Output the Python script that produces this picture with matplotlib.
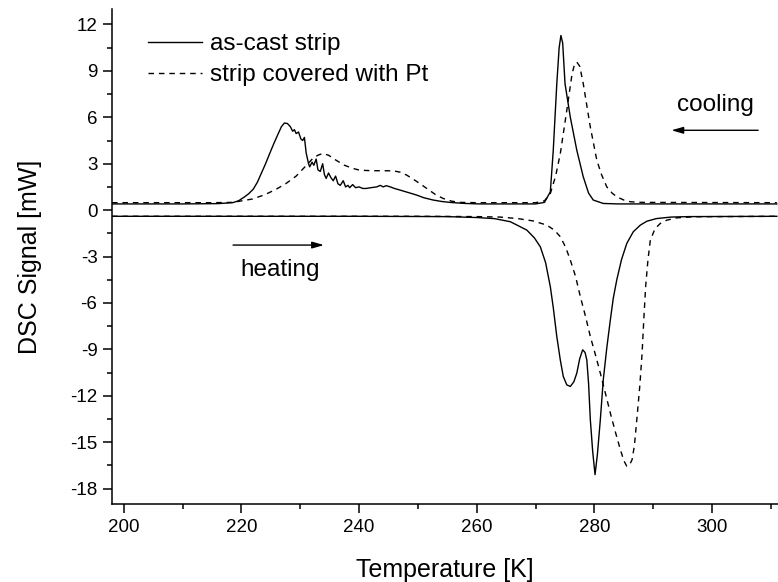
import matplotlib
matplotlib.use('Agg')
import matplotlib.pyplot as plt
from matplotlib.ticker import MultipleLocator

plt.rcParams['font.family'] = ['Liberation Sans', 'DejaVu Sans']
plt.rcParams['axes.unicode_minus'] = False

# cooling runs (exothermic peaks, positive)
cool_cast_T = [198, 210, 216, 218.5, 219.5, 220.5, 221.2, 222.0, 222.7, 223.4, 224.1, 224.8,
               225.5, 226.2, 226.8, 227.3, 227.8,
               228.3, 228.7, 229.0, 229.3, 229.7, 230.1, 230.4, 230.7, 231.0, 231.4, 231.6,
               232.0, 232.3, 232.7, 233.0, 233.4, 233.8, 234.1, 234.4, 234.8, 235.2, 235.6,
               236.0, 236.4, 236.8, 237.3, 237.7, 238.1, 238.4, 238.9, 239.4, 240.0, 240.6,
               241.2, 242, 243, 243.6, 244.1, 244.6, 245.3, 246, 247, 248.5, 249.8, 251,
               252.6, 254, 255.4, 258, 260.5, 265, 270, 271.5, 272.5, 273.0, 273.6, 274.0,
               274.3, 274.6, 275.0, 275.9, 277.0, 278.1, 279.0, 279.8, 281.5, 284, 311]
cool_cast_S = [0.40, 0.40, 0.42, 0.48, 0.6, 0.85, 1.05, 1.35, 1.8, 2.4, 3.0, 3.66,
               4.3, 4.9, 5.4, 5.63, 5.6,
               5.4, 5.1, 5.2, 4.95, 5.05, 4.6, 4.5, 4.7, 3.7, 3.0, 2.8,
               3.1, 2.9, 3.3, 2.6, 2.5, 3.0, 2.3, 2.05, 2.4, 2.1, 1.9,
               2.2, 1.7, 1.6, 1.9, 1.5, 1.6, 1.45, 1.65, 1.45, 1.5, 1.4,
               1.4, 1.45, 1.5, 1.6, 1.5, 1.58, 1.5, 1.4, 1.29, 1.12, 0.97, 0.8,
               0.65, 0.56, 0.5, 0.43, 0.40, 0.40, 0.40, 0.5, 1.18, 3.87, 8.17, 10.5,
               11.29, 10.8, 8.17, 6.0, 3.87, 2.15, 1.1, 0.65, 0.43, 0.40, 0.40]

cool_pt_T = [198, 215, 218.5, 221.9, 224, 225.9, 227.5, 229.3, 230.8, 232.1, 233.0, 233.8,
             234.8, 236.1, 237.5, 239.0, 240.1, 242, 245.8, 247, 248.1, 249.8, 251.5, 253,
             254.3, 255.7, 257.1, 260, 270, 271.5, 272.5, 273.4, 274.2, 275.3, 276.2, 276.6,
             277.0, 277.5, 278.1, 279.3, 280.4, 281.2, 282.1, 283.0, 283.8, 285, 286.1, 288, 311]
cool_pt_S = [0.48, 0.48, 0.5, 0.72, 1.0, 1.35, 1.7, 2.2, 2.8, 3.33, 3.55, 3.66,
             3.55, 3.22, 2.9, 2.69, 2.58, 2.55, 2.54, 2.45, 2.26, 1.85, 1.4, 1.0,
             0.75, 0.58, 0.5, 0.48, 0.48, 0.6, 1.07, 2.2, 3.66, 6.45, 8.82, 9.4,
             9.57, 9.3, 8.17, 5.37, 3.23, 2.3, 1.5, 1.1, 0.86, 0.65, 0.54, 0.5, 0.48]

# heating runs (endothermic peaks, negative)
heat_cast_T = [198, 240, 255, 260, 263, 265.7, 267, 268.5, 269.8, 270.8, 271.7, 272.5,
               273.0, 273.6, 274.2, 274.7, 275.3, 275.9, 276.5, 277.0, 277.5, 278.0, 278.4,
               278.7, 279.0, 279.3, 279.7, 280.1, 280.5, 281.0, 281.5, 282.1, 282.7, 283.2,
               283.8, 284.6, 285.5, 286.6, 287.8, 288.9, 290.5, 293, 296, 311]
heat_cast_S = [-0.40, -0.40, -0.42, -0.48, -0.55, -0.75, -1.0, -1.29, -1.8, -2.37, -3.4, -4.95,
               -6.3, -8.17, -9.7, -10.75, -11.3, -11.4, -11.1, -10.54, -9.6, -9.03, -9.2,
               -9.68, -11.2, -13.55, -15.6, -17.1, -15.8, -13.55, -10.97, -8.9, -7.1, -5.7,
               -4.5, -3.2, -2.15, -1.4, -0.97, -0.72, -0.55, -0.45, -0.42, -0.40]

heat_pt_T = [198, 250, 260, 264, 267, 269.6, 271.9, 273.2, 274.2, 275.1, 275.9, 276.8,
             277.6, 278.5, 279.3, 280.2, 281.0, 281.9, 282.7, 283.6, 284.4, 285.0, 285.5,
             286.0, 286.4, 286.8, 287.2, 287.7, 288.1, 288.4, 288.7, 289.1, 289.5, 290.3,
             291.2, 292.3, 294, 297, 311]
heat_pt_S = [-0.40, -0.40, -0.42, -0.45, -0.55, -0.7, -0.97, -1.3, -1.72, -2.4, -3.23, -4.3,
             -5.59, -6.9, -8.17, -9.4, -10.54, -11.9, -13.12, -14.4, -15.48, -16.2, -16.56,
             -16.45, -16.13, -15.2, -13.55, -11.4, -9.25, -7.0, -4.95, -3.2, -1.94, -1.2,
             -0.86, -0.65, -0.5, -0.43, -0.40]

fig = plt.figure(figsize=(7.78, 5.82), dpi=100)
ax = fig.add_axes([0.144, 0.134, 0.856, 0.8505])

dash = (0, (4, 3.5))
ax.plot(cool_cast_T, cool_cast_S, color='black', lw=1.0, label='as-cast strip')
ax.plot(cool_pt_T, cool_pt_S, color='black', lw=1.0, linestyle=dash, label='strip covered with Pt')
ax.plot(heat_cast_T, heat_cast_S, color='black', lw=1.0)
ax.plot(heat_pt_T, heat_pt_S, color='black', lw=1.0, linestyle=dash)

ax.set_xlim(198, 311.2)
ax.set_ylim(-19, 13)
ax.xaxis.set_major_locator(MultipleLocator(20))
ax.xaxis.set_minor_locator(MultipleLocator(10))
ax.yaxis.set_major_locator(MultipleLocator(3))
ax.yaxis.set_minor_locator(MultipleLocator(1.5))
ax.tick_params(which='major', direction='out', length=6.5, width=1.1, labelsize=13.5, pad=4)
ax.tick_params(which='minor', direction='out', length=3.6, width=1.1)
ax.spines['top'].set_visible(False)
ax.spines['right'].set_visible(False)
ax.spines['left'].set_linewidth(1.1)
ax.spines['bottom'].set_linewidth(1.1)

ax.set_xlabel('Temperature [K]', fontsize=18, labelpad=16)
ax.set_ylabel('DSC Signal [mW]', fontsize=18, labelpad=20)

ax.legend(loc='upper left', bbox_to_anchor=(0.04, 0.971), frameon=False, fontsize=17.5,
          handlelength=2.2, handletextpad=0.33, labelspacing=0.37, borderaxespad=0)

ax.annotate('', xy=(292.6, 5.16), xytext=(308.3, 5.16),
            arrowprops=dict(arrowstyle='-|>,head_length=0.7,head_width=0.2', color='black', lw=1.0))
ax.text(300.6, 6.8, 'cooling', fontsize=17.5, ha='center', va='center')
ax.annotate('', xy=(234.5, -2.26), xytext=(218.1, -2.26),
            arrowprops=dict(arrowstyle='-|>,head_length=0.7,head_width=0.2', color='black', lw=1.0))
ax.text(226.5, -3.9, 'heating', fontsize=17.5, ha='center', va='center')

plt.savefig('out.png', dpi=100)
